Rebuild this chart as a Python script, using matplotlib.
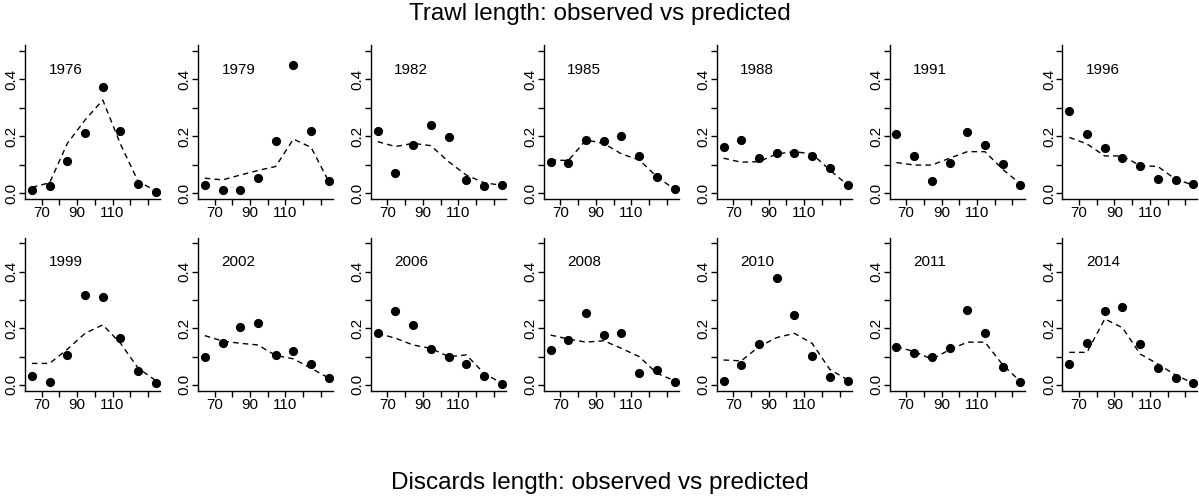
# Trawl length compositions: observed (points) vs predicted (dashed) by year
import matplotlib
matplotlib.use("Agg")
import matplotlib.pyplot as plt

plt.rcParams['font.family'] = ['Liberation Sans', 'DejaVu Sans']

# length bin midpoints (cm)
lengths = [64.5, 74.5, 84.5, 94.5, 104.5, 114.5, 124.5, 134.5]

years = [1976, 1979, 1982, 1985, 1988, 1991, 1996,
         1999, 2002, 2006, 2008, 2010, 2011, 2014]

obs_1976 = [0.012, 0.026, 0.115, 0.213, 0.372, 0.219, 0.033, 0.006]
obs_1979 = [0.028, 0.012, 0.012, 0.055, 0.185, 0.450, 0.219, 0.042]
obs_1982 = [0.219, 0.070, 0.170, 0.240, 0.196, 0.046, 0.026, 0.028]
obs_1985 = [0.110, 0.105, 0.187, 0.185, 0.201, 0.132, 0.058, 0.016]
obs_1988 = [0.161, 0.187, 0.124, 0.140, 0.140, 0.131, 0.090, 0.028]
obs_1991 = [0.208, 0.132, 0.042, 0.105, 0.214, 0.171, 0.102, 0.028]
obs_1996 = [0.290, 0.209, 0.158, 0.123, 0.094, 0.050, 0.046, 0.033]
obs_1999 = [0.033, 0.012, 0.105, 0.316, 0.312, 0.166, 0.049, 0.008]
obs_2002 = [0.100, 0.147, 0.206, 0.218, 0.105, 0.119, 0.075, 0.024]
obs_2006 = [0.185, 0.261, 0.212, 0.127, 0.098, 0.074, 0.033, 0.002]
obs_2008 = [0.122, 0.159, 0.253, 0.175, 0.185, 0.041, 0.053, 0.012]
obs_2010 = [0.014, 0.069, 0.145, 0.379, 0.247, 0.102, 0.029, 0.014]
obs_2011 = [0.133, 0.114, 0.098, 0.132, 0.265, 0.185, 0.062, 0.012]
obs_2014 = [0.074, 0.149, 0.261, 0.274, 0.145, 0.060, 0.024, 0.006]

pred_1976 = [0.021, 0.037, 0.175, 0.257, 0.327, 0.172, 0.041, 0.009]
pred_1979 = [0.053, 0.047, 0.064, 0.080, 0.094, 0.190, 0.161, 0.041]
pred_1982 = [0.181, 0.164, 0.175, 0.167, 0.111, 0.064, 0.037, 0.028]
pred_1985 = [0.117, 0.115, 0.187, 0.175, 0.138, 0.117, 0.058, 0.014]
pred_1988 = [0.123, 0.109, 0.111, 0.138, 0.146, 0.138, 0.082, 0.029]
pred_1991 = [0.108, 0.099, 0.099, 0.123, 0.146, 0.146, 0.084, 0.033]
pred_1996 = [0.196, 0.173, 0.131, 0.131, 0.097, 0.094, 0.049, 0.029]
pred_1999 = [0.076, 0.076, 0.126, 0.182, 0.212, 0.147, 0.059, 0.015]
pred_2002 = [0.174, 0.155, 0.147, 0.141, 0.104, 0.092, 0.059, 0.024]
pred_2006 = [0.182, 0.165, 0.141, 0.129, 0.100, 0.106, 0.041, 0.006]
pred_2008 = [0.176, 0.162, 0.151, 0.156, 0.129, 0.100, 0.041, 0.015]
pred_2010 = [0.088, 0.085, 0.135, 0.167, 0.182, 0.147, 0.055, 0.018]
pred_2011 = [0.135, 0.118, 0.091, 0.124, 0.151, 0.151, 0.071, 0.012]
pred_2014 = [0.115, 0.115, 0.233, 0.202, 0.109, 0.074, 0.035, 0.006]

observed = [obs_1976, obs_1979, obs_1982, obs_1985, obs_1988, obs_1991, obs_1996,
            obs_1999, obs_2002, obs_2006, obs_2008, obs_2010, obs_2011, obs_2014]
predicted = [pred_1976, pred_1979, pred_1982, pred_1985, pred_1988, pred_1991, pred_1996,
             pred_1999, pred_2002, pred_2006, pred_2008, pred_2010, pred_2011, pred_2014]

xticks = [70, 80, 90, 100, 110, 120, 130]
xticklabels = ['70', '', '90', '', '110', '', '']
yticks = [0.0, 0.1, 0.2, 0.3, 0.4, 0.5]
yticklabels = ['0.0', '', '0.2', '', '0.4', '']

W, H = 1199, 497
fig = plt.figure(figsize=(W / 100, H / 100), dpi=100)

# panel layout in pixels
left0, pitch, width = 25, 172.9, 135
row_tops = [45, 237.6]
row_heights = [154, 153]

for i, year in enumerate(years):
    row, col = divmod(i, 7)
    x0 = left0 + pitch * col
    top = row_tops[row]
    h = row_heights[row]
    ax = fig.add_axes([x0 / W, 1 - (top + h) / H, width / W, h / H])

    ax.plot(lengths, predicted[i], color='black', lw=1, linestyle=(0, (4, 3)))
    ax.plot(lengths, observed[i], 'o', color='black', markersize=5.6)

    ax.set_xlim(60.6, 136.8)
    ax.set_ylim(-0.02, 0.52)
    ax.set_xticks(xticks)
    ax.set_xticklabels(xticklabels)
    ax.set_yticks(yticks)
    ax.set_yticklabels(yticklabels, rotation=90, va='center')
    ax.tick_params(direction='out', length=4.3, width=1, labelsize=11, pad=1)
    ax.tick_params(axis='y', pad=0.3)
    for s in ['top', 'right']:
        ax.spines[s].set_visible(False)
    for s in ['left', 'bottom']:
        ax.spines[s].set_linewidth(1)

    ax.text(0.30, 0.84, str(year), transform=ax.transAxes,
            ha='center', va='center', fontsize=11)

fig.text(0.5, 1 - 14 / H, 'Trawl length: observed vs predicted',
         ha='center', va='center', fontsize=17.5)
fig.text(0.5, 1 - 483 / H, 'Discards length: observed vs predicted',
         ha='center', va='center', fontsize=17.5)

fig.savefig('out.png', dpi=100)
